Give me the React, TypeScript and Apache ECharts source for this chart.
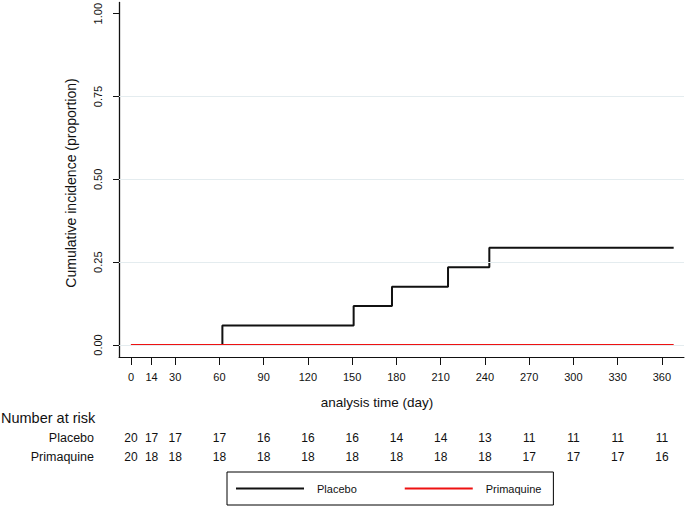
import React, { useEffect, useRef } from "react";
import * as echarts from "echarts";

const xTicks = [0, 14, 30, 60, 90, 120, 150, 180, 210, 240, 270, 300, 330, 360];
const yTicks = [0, 0.25, 0.5, 0.75, 1];
const gridValues = [0, 0.25, 0.5, 0.75];
const placeboTimes = [0, 62, 151, 177, 215, 243, 368];
const placeboCI = [0, 0.059, 0.118, 0.176, 0.235, 0.294, 0.294];
const primaquineTimes = [0, 368];
const primaquineCI = [0, 0];
const placeboRisk = [20, 17, 17, 17, 16, 16, 16, 14, 14, 13, 11, 11, 11, 11];
const primaquineRisk = [20, 18, 18, 18, 18, 18, 18, 18, 18, 18, 17, 17, 17, 16];

const FONT = "'Liberation Sans', Arial, Helvetica, sans-serif";
const X_MIN = -8.1;
const X_MAX = 375;
const Y_MIN = -0.0361;
const Y_MAX = 1.034;

export default function App() {
  const ref = useRef<HTMLDivElement>(null);
  useEffect(() => {
    if (!ref.current) return;
    const chart = echarts.init(ref.current, null, { renderer: "svg" });
    const riskAxis = (offset: number, values: number[]) => ({
      type: "value",
      gridIndex: 0,
      position: "bottom",
      offset,
      min: X_MIN,
      max: X_MAX,
      axisLine: { show: false },
      axisTick: { show: false },
      splitLine: { show: false },
      axisLabel: {
        customValues: xTicks,
        margin: 0,
        fontSize: 12,
        color: "#111",
        fontFamily: FONT,
        formatter: (v: number) => {
          const i = xTicks.indexOf(Math.round(v));
          return i >= 0 ? String(values[i]) : "";
        },
      },
    });
    chart.setOption({
      animation: false,
      textStyle: { fontFamily: FONT },
      grid: { left: 119, top: 2, right: 1, bottom: 153, containLabel: false },
      xAxis: [
        {
          type: "value",
          min: X_MIN,
          max: X_MAX,
          axisLine: { show: true, onZero: false, lineStyle: { color: "#111", width: 1 } },
          axisTick: { show: true, customValues: xTicks, length: 8, lineStyle: { color: "#111" } },
          axisLabel: {
            customValues: xTicks,
            margin: 14,
            fontSize: 11,
            color: "#111",
            fontFamily: FONT,
          },
          splitLine: { show: false },
        },
        riskAxis(75, placeboRisk),
        riskAxis(94, primaquineRisk),
      ],
      yAxis: {
        type: "value",
        min: Y_MIN,
        max: Y_MAX,
        axisLine: { show: true, onZero: false, lineStyle: { color: "#111", width: 1.3 } },
        axisTick: { show: true, customValues: yTicks, length: 6, lineStyle: { color: "#111" } },
        axisLabel: {
          customValues: yTicks,
          rotate: 90,
          margin: 16,
          fontSize: 11,
          color: "#111",
          fontFamily: FONT,
          formatter: (v: number) => v.toFixed(2),
        },
        splitLine: { show: false },
      },
      legend: {
        left: 227,
        top: 472,
        padding: [11, 12, 11, 9],
        borderColor: "#000",
        borderWidth: 1,
        icon: "rect",
        itemWidth: 68,
        itemHeight: 2,
        itemGap: 48,
        textStyle: { fontSize: 11, color: "#111", fontFamily: FONT, padding: [0, 0, 0, 8] },
        data: ["Placebo", "Primaquine"],
      },
      series: [
        {
          name: "grid",
          type: "line",
          data: [],
          z: 1,
          silent: true,
          markLine: {
            silent: true,
            symbol: ["none", "none"],
            label: { show: false },
            lineStyle: { color: "#e4ecef", width: 1, type: "solid" },
            data: gridValues.map((v) => ({ yAxis: v })),
          },
        },
        {
          name: "Placebo",
          type: "line",
          step: "end",
          showSymbol: false,
          symbol: "none",
          z: 3,
          lineStyle: { color: "#111", width: 2 },
          itemStyle: { color: "#111" },
          data: placeboTimes.map((t, i) => [t, placeboCI[i]]),
        },
        {
          name: "Primaquine",
          type: "line",
          step: "end",
          showSymbol: false,
          symbol: "none",
          z: 4,
          lineStyle: { color: "#ee1111", width: 2 },
          itemStyle: { color: "#ee1111" },
          data: primaquineTimes.map((t, i) => [t, primaquineCI[i]]),
        },
      ],
      graphic: [
        {
          type: "text",
          x: 71,
          y: 183,
          rotation: Math.PI / 2,
          style: {
            text: "Cumulative incidence (proportion)",
            fontSize: 14,
            fontFamily: FONT,
            fill: "#111",
            align: "center",
            verticalAlign: "middle",
          },
        },
        {
          type: "text",
          x: 377,
          y: 402,
          style: {
            text: "analysis time (day)",
            fontSize: 13.5,
            fontFamily: FONT,
            fill: "#111",
            align: "center",
            verticalAlign: "middle",
          },
        },
        {
          type: "text",
          x: 1,
          y: 418,
          style: {
            text: "Number at risk",
            fontSize: 14.5,
            fontFamily: FONT,
            fill: "#111",
            align: "left",
            verticalAlign: "middle",
          },
        },
        {
          type: "text",
          x: 94,
          y: 438,
          style: {
            text: "Placebo",
            fontSize: 12.5,
            fontFamily: FONT,
            fill: "#111",
            align: "right",
            verticalAlign: "middle",
          },
        },
        {
          type: "text",
          x: 94,
          y: 457,
          style: {
            text: "Primaquine",
            fontSize: 12.5,
            fontFamily: FONT,
            fill: "#111",
            align: "right",
            verticalAlign: "middle",
          },
        },
      ],
    });
    return () => chart.dispose();
  }, []);
  return (
    <div
      ref={ref}
      style={{ position: "fixed", left: 0, top: 0, width: 685, height: 510, background: "#fff" }}
    />
  );
}
